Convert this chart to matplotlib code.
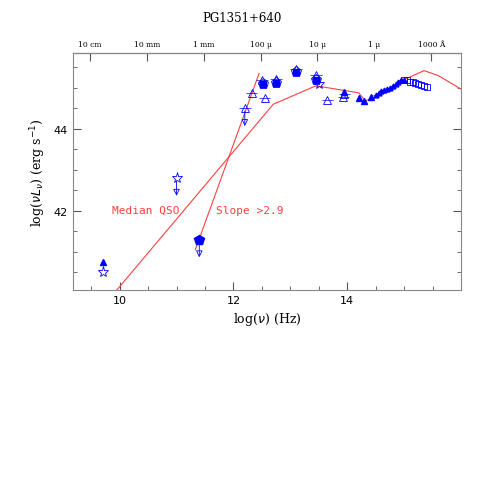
import matplotlib
matplotlib.use('Agg')
import matplotlib.pyplot as plt
import numpy as np

# median QSO template
med_x = [9.95, 12.7, 13.45, 13.8, 14.2, 14.32, 14.8, 15.0, 15.35, 15.6, 16.0]
med_y = [40.07, 44.6, 45.05, 44.97, 44.88, 44.68, 44.95, 45.2, 45.42, 45.3, 44.97]
slope_x = [11.33, 12.45]
slope_y = [41.05, 45.35]

# filled points
fill_tri_x = [9.7, 14.2, 14.3, 14.42, 13.95]
fill_tri_y = [40.75, 44.75, 44.68, 44.77, 44.9]
fill_sq_x = [12.52, 12.75, 13.1, 13.45]
fill_sq_y = [45.1, 45.12, 45.38, 45.18]
fill_pent_x = [11.4]
fill_pent_y = [41.3]

# open points
open_tri_x = [12.2, 12.32, 12.55, 12.5, 12.75, 13.1, 13.45, 13.65, 13.95, 13.93]
open_tri_y = [44.5, 44.87, 44.75, 45.18, 45.22, 45.45, 45.32, 44.7, 44.85, 44.78]
open_star_x = [9.7, 11.0, 13.5]
open_star_y = [40.5, 42.8, 45.1]
uplim_x = [11.0, 11.4, 12.2]
uplim_y = [42.8, 41.3, 44.5]

uv_x = [14.5, 14.55, 14.6, 14.65, 14.7, 14.75, 14.8, 14.85, 14.9, 14.95, 15.0]
uv_y = [44.82, 44.87, 44.92, 44.95, 44.98, 45.0, 45.05, 45.1, 45.15, 45.18, 45.2]
sq_x = [15.0, 15.05, 15.1, 15.15, 15.2, 15.25, 15.3, 15.35, 15.4]
sq_y = [45.2, 45.18, 45.15, 45.15, 45.12, 45.1, 45.08, 45.05, 45.02]

wl_labels = ['10 cm', '10 mm', '1 mm', '100 \u03bc', '10 \u03bc', '1 \u03bc', '1000 \u00c5']
wl_pos = [9.477 + i for i in range(7)]

fig = plt.figure(figsize=(4.85, 4.85), dpi=100)
ax = fig.add_axes([73/485, 1-291/485, 388/485, 237/485])
blue = '#0000ff'
red = '#ff4040'

ax.plot(med_x, med_y, color=red, lw=0.8)
ax.plot(slope_x, slope_y, color=red, lw=0.8)

ax.errorbar(uv_x, uv_y, xerr=0.04, fmt='^', color=blue, ms=3.5, lw=0.5)
ax.plot(sq_x, sq_y, 's', mfc='none', mec=blue, ms=4.5, mew=0.6)
ax.plot(open_tri_x, open_tri_y, '^', mfc='none', mec=blue, ms=6, mew=0.6)
ax.errorbar(open_tri_x, open_tri_y, xerr=0.1, fmt='none', ecolor=blue, lw=0.5)
ax.plot(open_star_x, open_star_y, '*', mfc='none', mec=blue, ms=8, mew=0.6)
ax.plot(fill_tri_x, fill_tri_y, '^', color=blue, ms=5)
ax.plot(fill_sq_x, fill_sq_y, 's', color=blue, ms=5)
ax.plot(fill_sq_x, fill_sq_y, 'p', mfc='none', mec=blue, ms=8, mew=0.6)
ax.plot(fill_pent_x, fill_pent_y, 'p', color=blue, ms=7)
for x, y in zip(uplim_x, uplim_y):
    ax.annotate('', xy=(x, y - 0.5), xytext=(x, y),
                arrowprops=dict(arrowstyle='-|>', color=blue, lw=0.6, fill=False))

ax.text(9.86, 41.95, 'Median QSO', color=red, fontsize=8, family='DejaVu Sans Mono')
ax.text(11.7, 41.95, 'Slope >2.9', color=red, fontsize=8, family='DejaVu Sans Mono')

ax.set_xlim(9.18, 16.0)
ax.set_ylim(40.07, 45.85)
ax.set_xticks([10, 12, 14])
ax.set_xticks(np.arange(9.5, 16.0, 0.5), minor=True)
ax.set_yticks([42, 44])
ax.set_yticks(np.arange(40.5, 45.6, 0.5), minor=True)
ax.tick_params(which='both', direction='in', right=True, labelsize=8, color='#555555')
ax.tick_params(which='major', length=6)
ax.tick_params(which='minor', length=3)
for s in ax.spines.values():
    s.set_color('#888888')
ax.set_xlabel(r'log($\nu$) (Hz)', fontsize=9, family='serif')
ax.set_ylabel(r'log($\nu L_\nu$) (erg s$^{-1}$)', fontsize=9, family='serif')

top = ax.secondary_xaxis('top')
top.set_xticks(wl_pos)
top.set_xticklabels(wl_labels, fontsize=5.5, family='serif')
top.tick_params(direction='in', length=6, color='#555555')
top.set_xticks([], minor=True)

fig.text(0.5, 1-18/485, 'PG1351+640', ha='center', va='center', fontsize=8.5, family='serif')
fig.savefig('out.png', dpi=100)
